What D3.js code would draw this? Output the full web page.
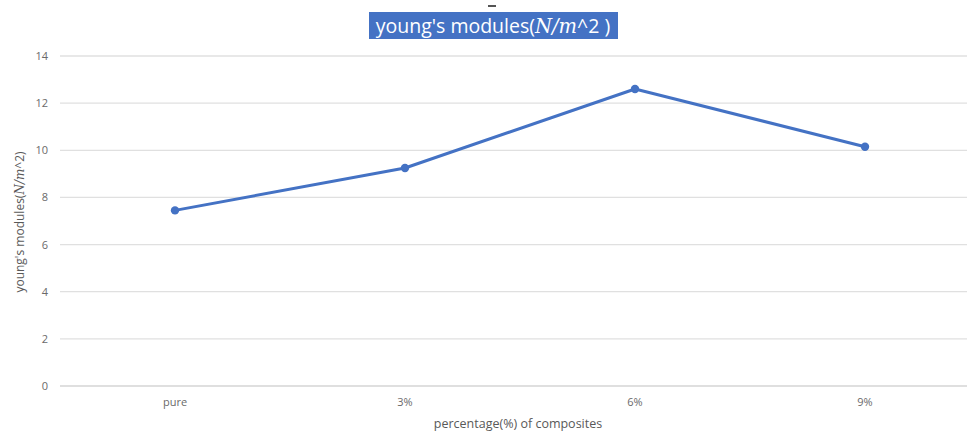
<!DOCTYPE html>
<html>
<head>
<meta charset="utf-8">
<script src="https://cdn.jsdelivr.net/npm/d3@7"></script>
<style>
  html, body { margin: 0; padding: 0; background: #fff; }
  svg { display: block; font-family: "Open Sans", "Liberation Sans", sans-serif; }
</style>
</head>
<body>
<svg id="chart" width="967" height="432"></svg>
<script>
// Young's modulus of the composite at each filler percentage
const categories = ["pure", "3%", "6%", "9%"];
const modulusValues = [7.45, 9.25, 12.6, 10.15];
const yTicks = [0, 2, 4, 6, 8, 10, 12, 14];

const svg = d3.select("#chart");
const W = 967, H = 432;
const plot = { left: 60, right: 980, top: 56, bottom: 386 };

const x = d3.scaleBand().domain(categories).range([plot.left, plot.right]).padding(0);
const y = d3.scaleLinear().domain([0, 14]).range([plot.bottom, plot.top]);
const cx = d => x(d) + x.bandwidth() / 2;

// horizontal gridlines
svg.append("g").selectAll("line").data(yTicks).join("line")
  .attr("x1", plot.left).attr("x2", W)
  .attr("y1", d => y(d)).attr("y2", d => y(d))
  .attr("stroke", d => d === 0 ? "#d4d4d4" : "#e0e0e0")
  .attr("stroke-width", 1.3);

// y tick labels
const yAxis = d3.axisLeft(y).tickValues(yTicks).tickSize(0).tickPadding(0);
const gy = svg.append("g").attr("transform", `translate(${plot.left - 12},0)`).call(yAxis);
gy.select(".domain").remove();
gy.selectAll("text").attr("fill", "#6a6a6a").style("font-size", "11px")
  .style("font-family", "'Open Sans', sans-serif");

// x tick labels
const xAxis = d3.axisBottom(x).tickSize(0).tickPadding(0);
const gx = svg.append("g").attr("transform", `translate(0,${plot.bottom + 12})`).call(xAxis);
gx.select(".domain").remove();
gx.selectAll("text").attr("fill", "#6a6a6a").style("font-size", "11px")
  .style("font-family", "'Open Sans', sans-serif");

// series line
const line = d3.line().x((d, i) => cx(categories[i])).y(d => y(d));
svg.append("path").datum(modulusValues)
  .attr("d", line).attr("fill", "none")
  .attr("stroke", "#4472C4").attr("stroke-width", 3)
  .attr("stroke-linejoin", "round");

// markers
svg.append("g").selectAll("circle").data(modulusValues).join("circle")
  .attr("cx", (d, i) => cx(categories[i])).attr("cy", d => y(d))
  .attr("r", 4.2).attr("fill", "#4472C4");

// x axis title
svg.append("text").attr("x", 518).attr("y", 428)
  .attr("text-anchor", "middle").attr("fill", "#595959")
  .style("font-size", "12.5px")
  .text("percentage(%) of composites");

// y axis title
const yt = svg.append("text")
  .attr("transform", "translate(24,222) rotate(-90)")
  .attr("text-anchor", "middle").attr("fill", "#595959")
  .style("font-size", "12px");
yt.append("tspan").text("young's modules(");
yt.append("tspan").style("font-style", "italic").style("font-family", "'DejaVu Serif', serif").text("N/m");
yt.append("tspan").text("^2)");

// chart title on a highlighted band
svg.append("rect").attr("x", 369).attr("y", 12).attr("width", 249).attr("height", 27)
  .attr("fill", "#4472C4");
svg.append("rect").attr("x", 488).attr("y", 5).attr("width", 8).attr("height", 2)
  .attr("fill", "#555");
const tt = svg.append("text").attr("x", 493).attr("y", 33)
  .attr("text-anchor", "middle").attr("fill", "#fff")
  .style("font-size", "19.5px");
tt.append("tspan").text("young's modules(");
tt.append("tspan").style("font-style", "italic").style("font-family", "'DejaVu Serif', serif").text("N/m");
tt.append("tspan").text("^2 )");
</script>
</body>
</html>
